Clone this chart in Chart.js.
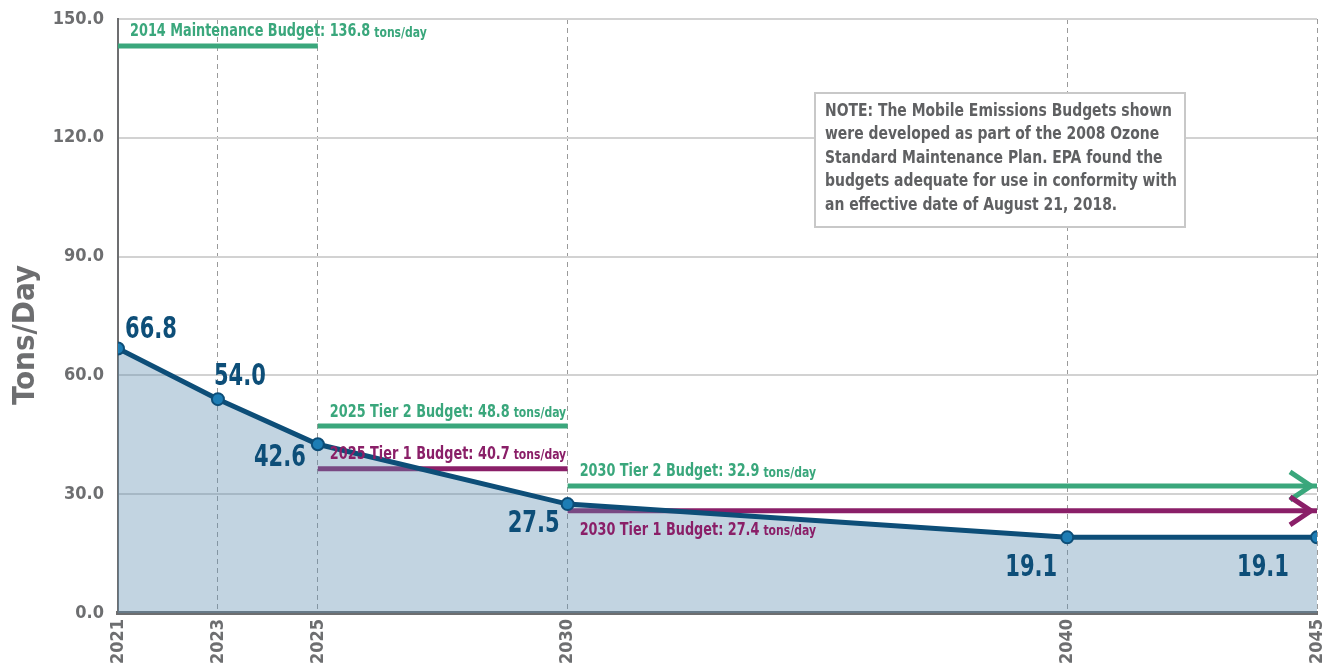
<!DOCTYPE html>
<html>
<head>
<meta charset="utf-8">
<script src="https://cdn.jsdelivr.net/npm/chart.js@4"></script>
<style>
  html, body { margin: 0; padding: 0; background: #fff; }
  #wrap { width: 1325px; height: 668px; }
</style>
</head>
<body>
<div id="wrap"><canvas id="myChart" width="1325" height="668"></canvas></div>
<script>
// data
const years = [2021, 2023, 2025, 2030, 2040, 2045];
const emissions = [66.8, 54.0, 42.6, 27.5, 19.1, 19.1];
const yTicks = [0, 30, 60, 90, 120, 150];

const budgetNames = ['2014 Maintenance Budget: 136.8', '2025 Tier 2 Budget: 48.8', '2025 Tier 1 Budget: 40.7', '2030 Tier 2 Budget: 32.9', '2030 Tier 1 Budget: 27.4'];
const budgetFrom = [2021, 2025, 2025, 2030, 2030];
const budgetTo = [2025, 2030, 2030, 2045, 2045];
const budgetLevel = [143.2, 47.2, 36.4, 32.1, 25.8]; // where the bars sit in the picture
const budgetTier = [2, 2, 1, 2, 1];

const noteLines = [
  'NOTE: The Mobile Emissions Budgets shown',
  'were developed as part of the 2008 Ozone',
  'Standard Maintenance Plan. EPA found the',
  'budgets adequate for use in conformity with',
  'an effective date of August 21, 2018.'
];

const FONT = "'DejaVu Sans Condensed','Liberation Sans Narrow',sans-serif";
const GREEN = '#3aa77c';
const PURPLE = '#8a1f68';
const BLUE = '#0d4e78';
const GRAY = '#6d6e70';

const budgetSets = budgetNames.map((name, i) => ({
  label: name,
  data: [{x: budgetFrom[i], y: budgetLevel[i]}, {x: budgetTo[i], y: budgetLevel[i]}],
  borderColor: budgetTier[i] == 2 ? GREEN : PURPLE,
  borderWidth: 5,
  pointRadius: 0,
  fill: false,
  arrow: budgetTo[i] == 2045
}));

// squeezed text, the original uses a condensed face
function narrowText(ctx, txt, x, y, align, font, sx) {
  ctx.save();
  ctx.translate(x, y);
  ctx.scale(sx, 1);
  ctx.font = font;
  ctx.textAlign = align;
  ctx.textBaseline = 'middle';
  ctx.fillText(txt, 0, 0);
  const w = ctx.measureText(txt).width * sx;
  ctx.restore();
  return w;
}

// labels, arrows, note box, axis title
const extras = {
  id: 'extras',
  afterDatasetsDraw(chart) {
    const ctx = chart.ctx;
    const xs = chart.scales.x, ys = chart.scales.y;
    ctx.save();

    // budget labels + arrow heads
    budgetSets.forEach((ds, i) => {
      const x0 = xs.getPixelForValue(budgetFrom[i]);
      const x1 = xs.getPixelForValue(budgetTo[i]);
      const y = ys.getPixelForValue(budgetLevel[i]);
      const ty = i == 4 ? y + 20 : y - 14;
      ctx.fillStyle = ds.borderColor;
      const w = narrowText(ctx, budgetNames[i], x0 + 12, ty, 'left', 'bold 17px ' + FONT, 0.84);
      narrowText(ctx, 'tons/day', x0 + 16 + w, ty + 1, 'left', 'bold 14px ' + FONT, 0.86);
      if (ds.arrow) {
        ctx.strokeStyle = ds.borderColor;
        ctx.lineWidth = 5;
        ctx.beginPath();
        ctx.moveTo(x1 - 27, y - 14);
        ctx.lineTo(x1 - 6, y);
        ctx.lineTo(x1 - 27, y + 14);
        ctx.stroke();
      }
    });

    // value labels
    const meta = chart.getDatasetMeta(0);
    const place = [[7, -18, 'left'], [-4, -22, 'left'], [-12, 14, 'right'], [-8, 20, 'right'], [-10, 31, 'right'], [-28, 31, 'right']];
    ctx.fillStyle = BLUE;
    meta.data.forEach((pt, i) => {
      narrowText(ctx, emissions[i].toFixed(1), pt.x + place[i][0], pt.y + place[i][1], place[i][2], 'bold 30px ' + FONT, 0.78);
    });

    // note box
    ctx.fillStyle = '#fff';
    ctx.fillRect(815, 93, 370, 134);
    ctx.strokeStyle = '#c8c8c8';
    ctx.lineWidth = 2;
    ctx.strokeRect(815, 93, 370, 134);
    ctx.fillStyle = '#5f6062';
    noteLines.forEach((t, i) => narrowText(ctx, t, 825, 111 + i * 23.5, 'left', 'bold 18px ' + FONT, 0.86));

    // y title
    ctx.translate(26, 335);
    ctx.rotate(-Math.PI / 2);
    ctx.fillStyle = GRAY;
    narrowText(ctx, 'Tons/Day', 0, 0, 'center', 'bold 31px ' + FONT, 1);
    ctx.restore();
  }
};

const config = {
  type: 'line',
  data: {
    datasets: [
      {
        label: 'Emissions',
        data: years.map((y, i) => ({x: y, y: emissions[i]})),
        borderColor: BLUE,
        borderWidth: 5,
        backgroundColor: 'rgba(95,142,176,0.38)',
        fill: 'origin',
        pointRadius: 6,
        pointBackgroundColor: '#1d7db5',
        pointBorderColor: BLUE,
        pointBorderWidth: 2,
        tension: 0
      },
      ...budgetSets
    ]
  },
  options: {
    responsive: false,
    animation: false,
    layout: { padding: { top: 19, right: 0, left: 0, bottom: 0 } },
    plugins: { legend: { display: false }, tooltip: { enabled: false } },
    scales: {
      x: {
        type: 'linear',
        min: 2021,
        max: 2045,
        afterBuildTicks: s => { s.ticks = years.map(v => ({value: v})); },
        afterFit: s => { s.height = 55; s.paddingLeft = 0; s.paddingRight = 0; },
        grid: { color: '#9a9a9a', lineWidth: 1, drawTicks: false },
        border: { color: GRAY, width: 4, dash: [5, 4] },
        ticks: {
          color: GRAY,
          font: { family: FONT, size: 18, weight: 'bold' },
          minRotation: 90,
          maxRotation: 90,
          padding: 6,
          callback: v => String(v)
        }
      },
      y: {
        min: 0,
        max: 150,
        afterBuildTicks: s => { s.ticks = yTicks.map(v => ({value: v})); },
        afterFit: s => { s.width = 118; s.paddingTop = 0; s.paddingBottom = 0; },
        grid: { color: '#d2d2d2', lineWidth: 2, drawTicks: false },
        border: { color: GRAY, width: 2 },
        ticks: {
          color: GRAY,
          font: { family: FONT, size: 18, weight: 'bold' },
          padding: 14,
          callback: v => v.toFixed(1)
        }
      }
    }
  },
  plugins: [extras]
};

new Chart(document.getElementById('myChart'), config);
</script>
</body>
</html>
